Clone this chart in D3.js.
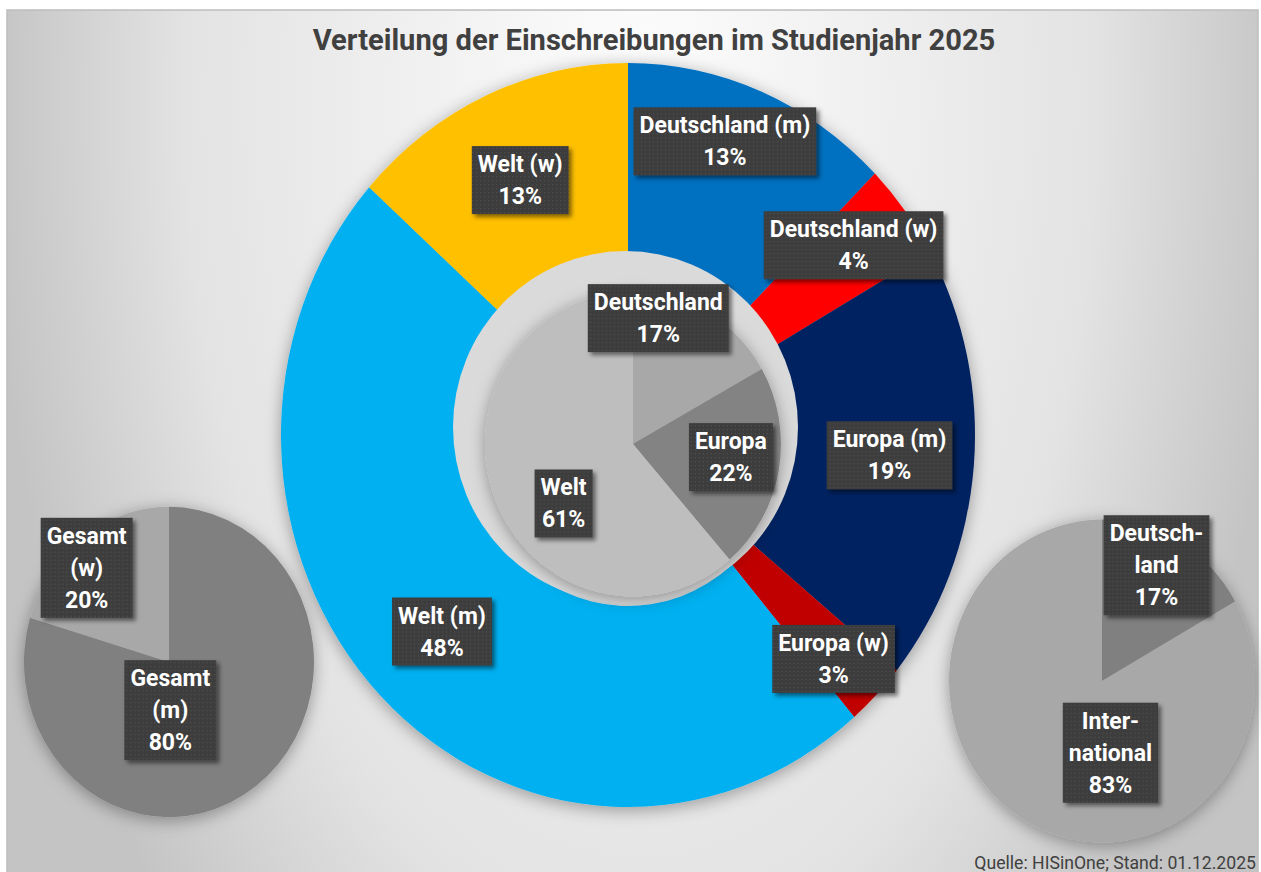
<!DOCTYPE html>
<html>
<head>
<meta charset="utf-8">
<script src="https://cdn.jsdelivr.net/npm/d3@7"></script>
<style>
  body { margin: 0; background: #fff; }
  svg { display: block; }
</style>
</head>
<body>
<svg id="chart" width="1261" height="872"></svg>
<script>
const title = "Verteilung der Einschreibungen im Studienjahr 2025";
const source = "Quelle: HISinOne; Stand: 01.12.2025";

// outer ring: origin x gender (share in %)
const ringLabels = ["Deutschland (m)", "Deutschland (w)", "Europa (m)", "Europa (w)", "Welt (m)", "Welt (w)"];
const ringValues = [12.6, 4.2, 19.1, 2.8, 47.9, 13.4];
const ringColors = ["#0070c0", "#ff0000", "#002060", "#c00000", "#00b0f0", "#ffc000"];

// inner pie: origin
const coreLabels = ["Deutschland", "Europa", "Welt"];
const coreValues = [16.8, 21.9, 61.3];
const coreColors = ["#a8a8a8", "#838383", "#bebebe"];

// left pie: gender
const genderLabels = ["Gesamt\n(m)", "Gesamt\n(w)"];
const genderValues = [79.6, 20.4];
const genderColors = ["#808080", "#a8a8a8"];

// right pie: domestic / international
const originLabels = ["Deutsch-\nland", "Inter-\nnational"];
const originValues = [16.8, 83.2];
const originColors = ["#808080", "#a8a8a8"];

const fmt = v => Math.round(v) + "%";

const svg = d3.select("#chart");
const defs = svg.append("defs");

// background
const bg = defs.append("radialGradient")
    .attr("id", "bg")
    .attr("gradientUnits", "userSpaceOnUse")
    .attr("cx", 0).attr("cy", 0).attr("r", 1)
    .attr("gradientTransform", "translate(640,100) scale(650,1200)");
bg.append("stop").attr("offset", 0).attr("stop-color", "#fdfdfd");
bg.append("stop").attr("offset", 0.7).attr("stop-color", "#e3e3e3");
bg.append("stop").attr("offset", 1).attr("stop-color", "#c4c4c4");

function shadow(id, dx, dy, sd, op) {
    defs.append("filter")
        .attr("id", id)
        .attr("x", "-30%").attr("y", "-30%")
        .attr("width", "160%").attr("height", "160%")
        .append("feDropShadow")
        .attr("dx", dx).attr("dy", dy)
        .attr("stdDeviation", sd)
        .attr("flood-color", "#000")
        .attr("flood-opacity", op);
}
shadow("pieShadow", 0, 3, 8, 0.35);
shadow("boxShadow", 3, 3, 2, 0.5);

// dotted fill of the label boxes
const pat = defs.append("pattern")
    .attr("id", "dots")
    .attr("width", 4).attr("height", 4)
    .attr("patternUnits", "userSpaceOnUse");
pat.append("rect").attr("width", 4).attr("height", 4).attr("fill", "#3d3d3d");
pat.append("rect").attr("width", 1).attr("height", 1).attr("fill", "#555");

svg.append("rect")
    .attr("x", 7).attr("y", 10)
    .attr("width", 1251).attr("height", 870)
    .attr("fill", "url(#bg)")
    .attr("stroke", "#bdbdbd")
    .attr("stroke-width", 1.5);

svg.append("text")
    .attr("transform", "translate(654,50) scale(0.97,1)")
    .attr("text-anchor", "middle")
    .style("font-family", "Roboto, 'DejaVu Sans', sans-serif")
    .style("font-weight", "bold")
    .style("font-size", "30px")
    .style("fill", "#404040")
    .text(title);

const plot = svg.append("g");

// draws one pie / donut, squeezed into an ellipse, returns its label anchors
function drawPie({labels, values, colors, cx, cy, r, ky, inner = 0, labelR = 0.5, nudges}) {
    const arcs = d3.pie().sort(null).value(d => d)(values);
    const arc = d3.arc().innerRadius(r * inner).outerRadius(r);
    const g = plot.append("g")
        .attr("transform", `translate(${cx},${cy}) scale(1,${ky})`)
        .attr("filter", "url(#pieShadow)");
    g.selectAll("path")
        .data(arcs)
        .join("path")
        .attr("d", arc)
        .attr("fill", (d, i) => colors[i]);

    const labelArc = d3.arc().innerRadius(r * labelR).outerRadius(r * labelR);
    return arcs.map((d, i) => {
        const [x, y] = labelArc.centroid(d);
        return {
            x: cx + x + nudges[i][0],
            y: cy + y * ky + nudges[i][1],
            lines: [...labels[i].split("\n"), fmt(values[i])]
        };
    });
}

const labels = [];

labels.push(...drawPie({
    labels: genderLabels, values: genderValues, colors: genderColors,
    cx: 169, cy: 662, r: 145, ky: 1.07,
    nudges: [[-42, -14], [-39, -32]]
}));

labels.push(...drawPie({
    labels: originLabels, values: originValues, colors: originColors,
    cx: 1102, cy: 681, r: 153, ky: 1.055,
    nudges: [[16, -46], [47, 2]]
}));

labels.push(...drawPie({
    labels: ringLabels, values: ringValues, colors: ringColors,
    cx: 628, cy: 435, r: 347, ky: 1.072, inner: 0.46, labelR: 0.739,
    nudges: [[-2, -40], [21, -24], [6, -3], [22, 32], [-3, 4], [-3, -4]]
}));

// light ring that holds the inner pie
plot.append("ellipse")
    .attr("cx", 625.5).attr("cy", 427)
    .attr("rx", 172.5).attr("ry", 176)
    .attr("fill", "#dadada");

labels.push(...drawPie({
    labels: coreLabels, values: coreValues, colors: coreColors,
    cx: 633, cy: 444, r: 148, ky: 1.03,
    nudges: [[-12, -60], [25, 0], [0, 33]]
}));

// label boxes
const LINE = 32, CAP = 16, PADX = 6, PADY = 10, TEXT_SX = 1.0;

const lab = svg.append("g")
    .style("font-family", "Roboto, 'DejaVu Sans', sans-serif")
    .style("font-weight", "bold")
    .style("font-size", "23px")
    .style("fill", "#fff");

labels.forEach(l => {
    const n = l.lines.length;
    const g = lab.append("g").attr("transform", `translate(${l.x},${l.y})`);
    const box = g.append("rect")
        .attr("fill", "url(#dots)")
        .attr("filter", "url(#boxShadow)");
    const t = g.append("g").attr("transform", `scale(${TEXT_SX},1)`);
    l.lines.forEach((s, i) => {
        t.append("text")
            .attr("y", (i - (n - 1) / 2) * LINE + CAP / 2)
            .attr("text-anchor", "middle")
            .text(s);
    });
    const w = d3.max(t.selectAll("text").nodes(), e => e.getComputedTextLength()) * TEXT_SX;
    const h = (n - 1) * LINE + CAP + 2 * PADY;
    box.attr("x", -w / 2 - PADX).attr("y", -h / 2)
        .attr("width", w + 2 * PADX).attr("height", h);
});

svg.append("text")
    .attr("transform", "translate(1256,869) scale(0.98,1)")
    .attr("text-anchor", "end")
    .style("font-family", "Roboto, 'DejaVu Sans', sans-serif")
    .style("font-size", "18px")
    .style("fill", "#404040")
    .text(source);
</script>
</body>
</html>
